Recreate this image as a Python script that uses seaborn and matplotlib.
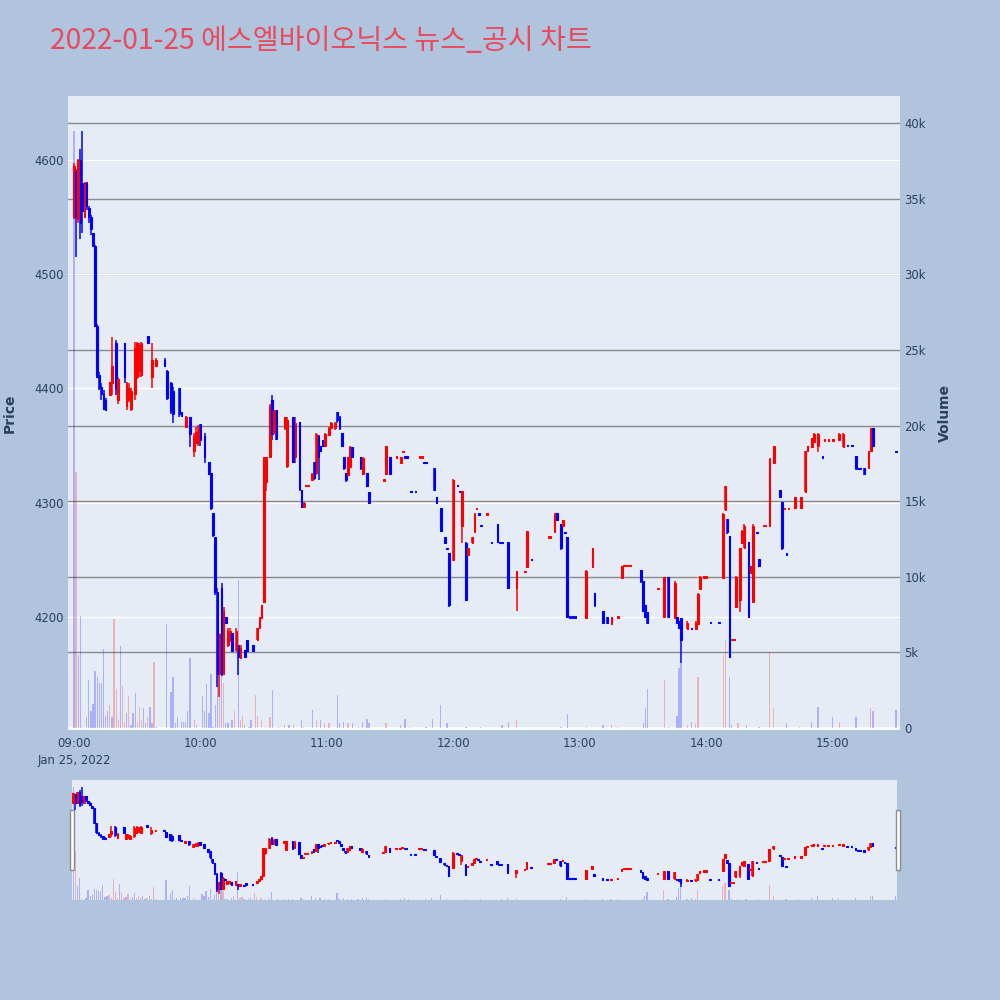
import numpy as np
import seaborn as sns
import matplotlib
matplotlib.use('Agg')
import matplotlib.pyplot as plt
import matplotlib.transforms as mtransforms
from matplotlib.patches import Rectangle

sns.set_theme(style='white')
plt.rcParams['font.family'] = ['DejaVu Sans', 'Noto Sans CJK KR']

TITLE = '2022-01-25 에스엘바이오닉스 뉴스_공시 차트'

# minute bars, minutes after 09:00
bar_minute = [0, 1, 2, 3, 4, 5, 6, 7, 8, 9,
              10, 11, 12, 13, 14, 15, 17, 18, 20, 21,
              24, 25, 26, 27, 29, 30, 31, 32, 35, 37,
              39, 43, 44, 46, 47, 50, 51, 53, 55, 57,
              58, 59, 60, 62, 64, 65, 66, 67, 68, 69,
              70, 71, 72, 73, 74, 75, 77, 78, 79, 81,
              82, 85, 87, 88, 89, 90, 91, 93, 94, 95,
              96, 100, 101, 104, 105, 107, 108, 109, 110, 111,
              113, 114, 115, 116, 117, 118, 119, 121, 122, 124,
              125, 126, 127, 128, 129, 130, 131, 132, 136, 137,
              139, 140, 147, 148, 150, 153, 155, 156, 157, 158,
              160, 162, 164, 165, 166, 167, 171, 172, 174, 176,
              177, 178, 180, 182, 183, 184, 186, 187, 189, 190,
              191, 192, 193, 196, 198, 201, 202, 203, 206, 210,
              214, 215, 217, 225, 226, 228, 229, 231, 232, 233,
              234, 235, 236, 237, 238, 243, 246, 247, 251, 253,
              255, 258, 260, 261, 262, 263, 264, 269, 270, 271,
              272, 277, 280, 282, 285, 286, 287, 288, 291, 293,
              295, 296, 297, 299, 300, 302, 306, 308, 309, 310,
              311, 312, 313, 314, 316, 317, 318, 320, 321, 322,
              324, 325, 327, 328, 330, 332, 335, 336, 337, 338,
              339, 342, 345, 347, 348, 350, 351, 353, 355, 356,
              358, 360, 363, 365, 367, 369, 371, 372, 373, 375,
              377, 378, 379, 390]

bar_open = [4550, 4590, 4548, 4600, 4580, 4550, 4580, 4558, 4550, 4536,
            4525, 4455, 4412, 4401, 4395, 4390, 4394, 4405, 4440, 4390,
            4440, 4385, 4390, 4382, 4395, 4410, 4415, 4412, 4446, 4410,
            4420, 4425, 4415, 4405, 4398, 4400, 4379, 4366, 4375, 4345,
            4352, 4352, 4369, 4358, 4336, 4326, 4291, 4270, 4222, 4150,
            4225, 4150, 4200, 4175, 4180, 4186, 4170, 4175, 4164, 4171,
            4180, 4175, 4180, 4190, 4199, 4213, 4318, 4340, 4390, 4361,
            4381, 4365, 4332, 4375, 4340, 4371, 4311, 4296, 4315, 4315,
            4320, 4336, 4326, 4358, 4350, 4355, 4350, 4359, 4365, 4365,
            4379, 4375, 4361, 4340, 4326, 4324, 4331, 4349, 4340, 4325,
            4326, 4309, 4320, 4325, 4340, 4340, 4335, 4345, 4340, 4340,
            4310, 4310, 4340, 4340, 4335, 4335, 4330, 4305, 4295, 4270,
            4260, 4256, 4250, 4315, 4310, 4280, 4265, 4254, 4265, 4274,
            4295, 4290, 4280, 4290, 4265, 4281, 4265, 4265, 4266, 4225,
            4240, 4244, 4250, 4270, 4270, 4274, 4291, 4281, 4280, 4274,
            4270, 4200, 4200, 4200, 4200, 4199, 4244, 4221, 4205, 4200,
            4194, 4200, 4234, 4245, 4245, 4245, 4245, 4241, 4231, 4210,
            4204, 4225, 4200, 4235, 4199, 4200, 4196, 4199, 4189, 4190,
            4189, 4194, 4224, 4235, 4235, 4195, 4195, 4234, 4294, 4286,
            4271, 4180, 4180, 4209, 4215, 4265, 4260, 4266, 4238, 4213,
            4274, 4251, 4280, 4280, 4280, 4335, 4311, 4301, 4295, 4255,
            4295, 4295, 4295, 4309, 4345, 4349, 4353, 4350, 4340, 4355,
            4355, 4355, 4355, 4349, 4350, 4350, 4341, 4330, 4330, 4330,
            4330, 4345, 4365, 4345]

bar_high = [4597, 4592, 4601, 4610, 4625, 4581, 4581, 4560, 4552, 4536,
            4526, 4456, 4414, 4405, 4399, 4392, 4406, 4445, 4442, 4410,
            4440, 4406, 4405, 4400, 4441, 4441, 4440, 4441, 4446, 4440,
            4427, 4427, 4416, 4406, 4401, 4400, 4379, 4376, 4375, 4361,
            4366, 4368, 4369, 4361, 4336, 4326, 4291, 4270, 4225, 4186,
            4230, 4209, 4200, 4190, 4190, 4186, 4190, 4175, 4175, 4171,
            4180, 4175, 4190, 4200, 4210, 4340, 4340, 4386, 4394, 4381,
            4381, 4375, 4375, 4375, 4375, 4371, 4311, 4301, 4315, 4315,
            4326, 4336, 4361, 4359, 4350, 4355, 4361, 4366, 4371, 4371,
            4379, 4376, 4361, 4340, 4326, 4340, 4350, 4349, 4340, 4340,
            4326, 4309, 4320, 4350, 4340, 4340, 4340, 4345, 4340, 4340,
            4310, 4310, 4340, 4340, 4335, 4335, 4330, 4305, 4295, 4270,
            4260, 4256, 4321, 4315, 4310, 4310, 4266, 4260, 4270, 4291,
            4295, 4290, 4280, 4290, 4265, 4281, 4265, 4265, 4266, 4240,
            4240, 4275, 4250, 4270, 4270, 4291, 4291, 4281, 4285, 4274,
            4270, 4200, 4200, 4200, 4200, 4241, 4260, 4221, 4205, 4200,
            4200, 4200, 4245, 4245, 4245, 4245, 4245, 4241, 4231, 4210,
            4204, 4225, 4235, 4235, 4231, 4200, 4196, 4199, 4196, 4190,
            4196, 4221, 4236, 4235, 4235, 4195, 4195, 4291, 4315, 4286,
            4271, 4180, 4180, 4236, 4260, 4276, 4281, 4266, 4245, 4281,
            4274, 4251, 4280, 4280, 4339, 4350, 4311, 4301, 4295, 4255,
            4295, 4305, 4305, 4345, 4350, 4357, 4361, 4361, 4340, 4355,
            4355, 4355, 4361, 4361, 4350, 4350, 4341, 4330, 4330, 4330,
            4345, 4365, 4365, 4345]

bar_low = [4548, 4515, 4545, 4531, 4536, 4549, 4556, 4545, 4534, 4524,
           4454, 4409, 4399, 4390, 4381, 4380, 4394, 4394, 4394, 4386,
           4405, 4381, 4388, 4380, 4390, 4408, 4410, 4410, 4440, 4400,
           4419, 4419, 4390, 4378, 4370, 4375, 4375, 4365, 4349, 4340,
           4352, 4350, 4350, 4335, 4324, 4294, 4270, 4219, 4139, 4130,
           4148, 4149, 4195, 4174, 4178, 4169, 4170, 4149, 4164, 4164,
           4169, 4169, 4180, 4190, 4199, 4213, 4310, 4339, 4355, 4361,
           4355, 4364, 4330, 4335, 4335, 4310, 4295, 4295, 4315, 4315,
           4320, 4320, 4324, 4320, 4344, 4349, 4350, 4359, 4365, 4364,
           4370, 4364, 4349, 4329, 4318, 4324, 4331, 4339, 4329, 4324,
           4314, 4299, 4320, 4324, 4324, 4340, 4335, 4345, 4340, 4340,
           4310, 4310, 4340, 4340, 4335, 4335, 4310, 4299, 4274, 4264,
           4260, 4209, 4249, 4315, 4310, 4265, 4214, 4254, 4265, 4274,
           4295, 4290, 4280, 4290, 4265, 4265, 4265, 4265, 4224, 4205,
           4240, 4244, 4250, 4270, 4270, 4274, 4284, 4259, 4280, 4274,
           4199, 4200, 4200, 4200, 4200, 4199, 4244, 4209, 4194, 4194,
           4194, 4200, 4234, 4245, 4245, 4245, 4245, 4230, 4204, 4199,
           4194, 4225, 4200, 4199, 4199, 4194, 4189, 4160, 4189, 4190,
           4189, 4194, 4224, 4235, 4235, 4195, 4195, 4234, 4294, 4273,
           4164, 4180, 4180, 4209, 4204, 4265, 4260, 4199, 4238, 4213,
           4274, 4244, 4280, 4280, 4279, 4335, 4304, 4259, 4295, 4255,
           4295, 4295, 4295, 4309, 4345, 4349, 4353, 4344, 4340, 4355,
           4355, 4355, 4355, 4349, 4350, 4350, 4329, 4330, 4330, 4324,
           4330, 4345, 4349, 4345]

bar_close = [4595, 4550, 4600, 4545, 4555, 4580, 4560, 4550, 4540, 4525,
             4455, 4410, 4400, 4395, 4382, 4381, 4406, 4420, 4400, 4408,
             4410, 4405, 4400, 4398, 4435, 4440, 4438, 4440, 4440, 4425,
             4425, 4420, 4392, 4380, 4378, 4378, 4376, 4375, 4360, 4358,
             4362, 4365, 4355, 4340, 4325, 4295, 4272, 4222, 4150, 4185,
             4150, 4205, 4195, 4188, 4188, 4170, 4188, 4165, 4173, 4165,
             4170, 4170, 4190, 4200, 4210, 4340, 4340, 4385, 4360, 4380,
             4356, 4375, 4372, 4336, 4370, 4312, 4296, 4300, 4315, 4315,
             4325, 4322, 4360, 4340, 4345, 4350, 4360, 4365, 4370, 4370,
             4372, 4365, 4350, 4330, 4320, 4340, 4349, 4340, 4330, 4339,
             4315, 4300, 4320, 4350, 4325, 4340, 4340, 4345, 4340, 4340,
             4310, 4310, 4340, 4340, 4335, 4335, 4311, 4300, 4275, 4265,
             4260, 4210, 4320, 4315, 4310, 4310, 4215, 4260, 4270, 4290,
             4295, 4290, 4280, 4290, 4265, 4266, 4265, 4265, 4225, 4240,
             4240, 4275, 4250, 4270, 4270, 4290, 4285, 4260, 4285, 4274,
             4200, 4200, 4200, 4200, 4200, 4240, 4260, 4210, 4195, 4195,
             4200, 4200, 4245, 4245, 4245, 4245, 4245, 4231, 4205, 4200,
             4195, 4225, 4235, 4200, 4230, 4195, 4190, 4180, 4195, 4190,
             4195, 4220, 4235, 4235, 4235, 4195, 4195, 4290, 4315, 4274,
             4165, 4180, 4180, 4235, 4260, 4275, 4280, 4200, 4245, 4280,
             4274, 4245, 4280, 4280, 4338, 4350, 4305, 4260, 4295, 4255,
             4295, 4305, 4305, 4345, 4350, 4357, 4360, 4360, 4340, 4355,
             4355, 4355, 4360, 4360, 4350, 4350, 4330, 4330, 4330, 4325,
             4345, 4365, 4350, 4345]

# volume, thousands of shares
vol_minute = [0, 1, 2, 3, 4, 6, 7, 8, 9, 10,
              11, 12, 13, 14, 15, 16, 17, 18, 19, 20,
              21, 22, 23, 24, 25, 26, 27, 28, 29, 30,
              31, 32, 33, 34, 35, 36, 37, 38, 39, 44,
              46, 47, 48, 49, 51, 52, 53, 54, 55, 57,
              58, 61, 62, 63, 64, 65, 66, 67, 68, 69,
              70, 71, 72, 73, 75, 76, 78, 79, 80, 81,
              83, 84, 86, 87, 89, 91, 93, 94, 97, 100,
              102, 104, 108, 109, 113, 115, 117, 119, 121, 125,
              126, 128, 130, 132, 135, 137, 139, 140, 148, 155,
              157, 159, 167, 170, 174, 177, 186, 193, 203, 206,
              210, 231, 234, 243, 251, 255, 258, 270, 271, 272,
              280, 282, 286, 287, 288, 291, 293, 295, 296, 308,
              309, 311, 312, 315, 319, 325, 330, 332, 338, 344,
              350, 353, 360, 363, 371, 378, 379, 390]

vol_k = [39.5, 16.9, 4.8, 7.4, 0.1, 0.7, 3.2, 1.1, 1.6, 3.8,
         3.4, 3.0, 3.0, 5.2, 0.8, 1.1, 1.5, 0.7, 7.2, 2.6,
         0.5, 5.4, 2.8, 0.4, 1.0, 2.1, 0.2, 1.0, 2.3, 0.4,
         1.4, 0.5, 1.3, 0.3, 0.7, 1.4, 0.3, 4.4, 0.1, 6.9,
         2.4, 3.4, 0.3, 0.7, 0.4, 0.4, 0.4, 1.1, 4.6, 0.5,
         0.2, 2.1, 1.1, 2.9, 1.0, 3.6, 0.1, 1.5, 6.6, 4.5,
         9.0, 3.0, 0.3, 0.3, 0.5, 1.1, 9.8, 0.5, 0.8, 0.2,
         0.1, 0.5, 2.2, 0.8, 0.5, 0.1, 0.7, 2.5, 0.1, 0.2,
         0.2, 0.2, 0.5, 0.1, 1.2, 0.5, 0.5, 0.3, 0.3, 2.2,
         0.3, 0.4, 0.3, 0.3, 0.1, 0.4, 0.6, 0.3, 0.3, 0.2,
         0.6, 0.1, 0.1, 0.6, 1.5, 0.3, 0.1, 0.1, 0.2, 0.4,
         0.5, 0.1, 0.9, 0.1, 0.2, 0.2, 0.1, 0.3, 1.3, 2.6,
         3.2, 0.1, 0.8, 4.0, 4.3, 0.2, 0.4, 0.3, 3.4, 4.8,
         5.8, 3.4, 0.2, 0.3, 0.2, 0.1, 5.0, 1.3, 0.3, 0.1,
         0.4, 1.4, 0.7, 0.4, 0.7, 1.3, 1.1, 1.2]

vol_up = [0, 1, 0, 0, 1, 0, 0, 0, 0, 0,
          0, 0, 0, 0, 0, 0, 1, 0, 1, 1,
          1, 0, 1, 1, 0, 1, 0, 0, 0, 1,
          1, 1, 0, 0, 1, 0, 0, 1, 0, 0,
          0, 0, 0, 0, 0, 0, 0, 0, 0, 1,
          0, 0, 0, 0, 0, 0, 0, 0, 0, 1,
          0, 1, 0, 0, 0, 1, 0, 1, 1, 0,
          0, 0, 1, 1, 1, 1, 1, 0, 0, 1,
          0, 1, 0, 1, 0, 1, 0, 1, 1, 0,
          0, 0, 1, 0, 0, 0, 0, 0, 1, 0,
          0, 0, 0, 0, 0, 0, 0, 0, 0, 0,
          1, 0, 0, 1, 0, 1, 1, 0, 0, 0,
          1, 0, 0, 0, 0, 1, 0, 1, 1, 1,
          1, 0, 0, 1, 0, 0, 1, 1, 0, 1,
          0, 0, 0, 1, 0, 1, 0, 0]

time_ticks = [0, 60, 120, 180, 240, 300, 360]
time_labels = ['09:00\nJan 25, 2022', '10:00', '11:00', '12:00', '13:00', '14:00', '15:00']
price_ticks = [4200, 4300, 4400, 4500, 4600]
vol_ticks = [0, 5, 10, 15, 20, 25, 30, 35, 40]
vol_labels = ['0', '5k', '10k', '15k', '20k', '25k', '30k', '35k', '40k']

BG = '#B0C4DE'
PLOT_BG = '#E5ECF6'
RED = '#FF0000'
BLUE = '#0000FF'
TXT = '#2A3F5F'

m = np.array(bar_minute, dtype=float)
o = np.array(bar_open, dtype=float)
h = np.array(bar_high, dtype=float)
l = np.array(bar_low, dtype=float)
c = np.array(bar_close, dtype=float)

# plotly style direction: body first, then previous close, else keep last
up = []
prev_c, prev_up = None, True
for oo, cc in zip(o, c):
    if cc > oo:
        d = True
    elif cc < oo:
        d = False
    elif prev_c is not None and cc != prev_c:
        d = cc > prev_c
    else:
        d = prev_up
    up.append(d)
    prev_c, prev_up = cc, d
up = np.array(up)
cols = np.where(up, RED, BLUE)

vm = np.array(vol_minute, dtype=float)
vk = np.array(vol_k)
vcols = [(1, 0, 0, 0.25) if u else (0, 0, 1, 0.25) for u in vol_up]

P_LIM = (4101, 4656)
V_LIM = (-0.13, 41.8)


def draw_pair(ax_v, ax_p, min_h, wick_lw):
    ax_v.bar(vm, vk, width=0.6, color=vcols, linewidth=0, zorder=2)
    ax_p.vlines(m, l, h, colors=cols, lw=wick_lw, zorder=3)
    body = np.maximum(np.abs(c - o), min_h)
    mid = (o + c) / 2
    ax_p.bar(m, body, width=0.75, bottom=mid - body / 2, color=cols,
             edgecolor=cols, linewidth=0.8, zorder=4)
    ax_v.set_ylim(*V_LIM)
    ax_p.set_ylim(*P_LIM)
    ax_v.set_zorder(0)
    ax_p.set_zorder(1)
    ax_p.patch.set_visible(False)
    ax_v.set_facecolor(PLOT_BG)
    for a in (ax_v, ax_p):
        for s in a.spines.values():
            s.set_visible(False)
        a.tick_params(length=0)


fig = plt.figure(figsize=(10, 10), dpi=100, facecolor=BG)

rect = [0.068, 0.27, 0.832, 0.634]
ax_v = fig.add_axes(rect)
ax_p = fig.add_axes(rect, sharex=ax_v)
draw_pair(ax_v, ax_p, 1.2, 1.1)

# grid: dark lines for volume, white lines for price (both under the bars)
for t in vol_ticks[1:]:
    ax_v.axhline(t, color='#8a8a8a', lw=1.0, zorder=0.5)
ax_v.axhline(0, color='white', lw=1.8, zorder=0.6)
blend = mtransforms.blended_transform_factory(ax_v.transAxes, ax_p.transData)
for t in price_ticks:
    ax_v.plot([0, 1], [t, t], color='white', lw=1.0, transform=blend, zorder=0.6)

ax_v.set_xlim(-2.85, 391.85)
ax_v.yaxis.tick_right()
ax_v.set_yticks(vol_ticks)
ax_v.set_yticklabels(vol_labels)
ax_v.tick_params(axis='y', labelsize=8.4, labelcolor=TXT, pad=3)
ax_v.tick_params(axis='x', labelbottom=False)

ax_p.set_yticks(price_ticks)
ax_p.set_yticklabels([str(t) for t in price_ticks])
ax_p.tick_params(axis='y', labelsize=8.4, labelcolor=TXT, pad=3, labelleft=True, labelright=False)
ax_p.set_xticks(time_ticks)
ax_p.set_xticklabels(time_labels, linespacing=1.45)
ax_p.tick_params(axis='x', labelsize=8.4, labelcolor=TXT, pad=5, labelbottom=True)

# range slider copy
srect = [0.072, 0.10, 0.825, 0.12]
sl_v = fig.add_axes(srect)
sl_p = fig.add_axes(srect, sharex=sl_v)
draw_pair(sl_v, sl_p, 5.0, 1.1)
sl_v.set_xlim(-0.6, 390.6)
for a in (sl_v, sl_p):
    a.set_xticks([])
    a.set_yticks([])

for x0 in (0.0695, 0.8955):
    fig.patches.append(Rectangle((x0, 0.130), 0.0042, 0.060, transform=fig.transFigure,
                                 facecolor='white', edgecolor='#8c8c8c', lw=1.0, zorder=5))

fig.text(0.05, 0.959, TITLE, fontsize=20.3, color='#E84A5F', va='center', ha='left',
         family=['Noto Sans CJK KR', 'DejaVu Sans'])
fig.text(0.010, 0.587, 'Price', rotation=90, va='center', ha='center',
         fontsize=10, fontweight='bold', color=TXT)
fig.text(0.945, 0.587, 'Volume', rotation=90, va='center', ha='center',
         fontsize=10, fontweight='bold', color=TXT)

fig.savefig('out.png', dpi=100, facecolor=BG)
